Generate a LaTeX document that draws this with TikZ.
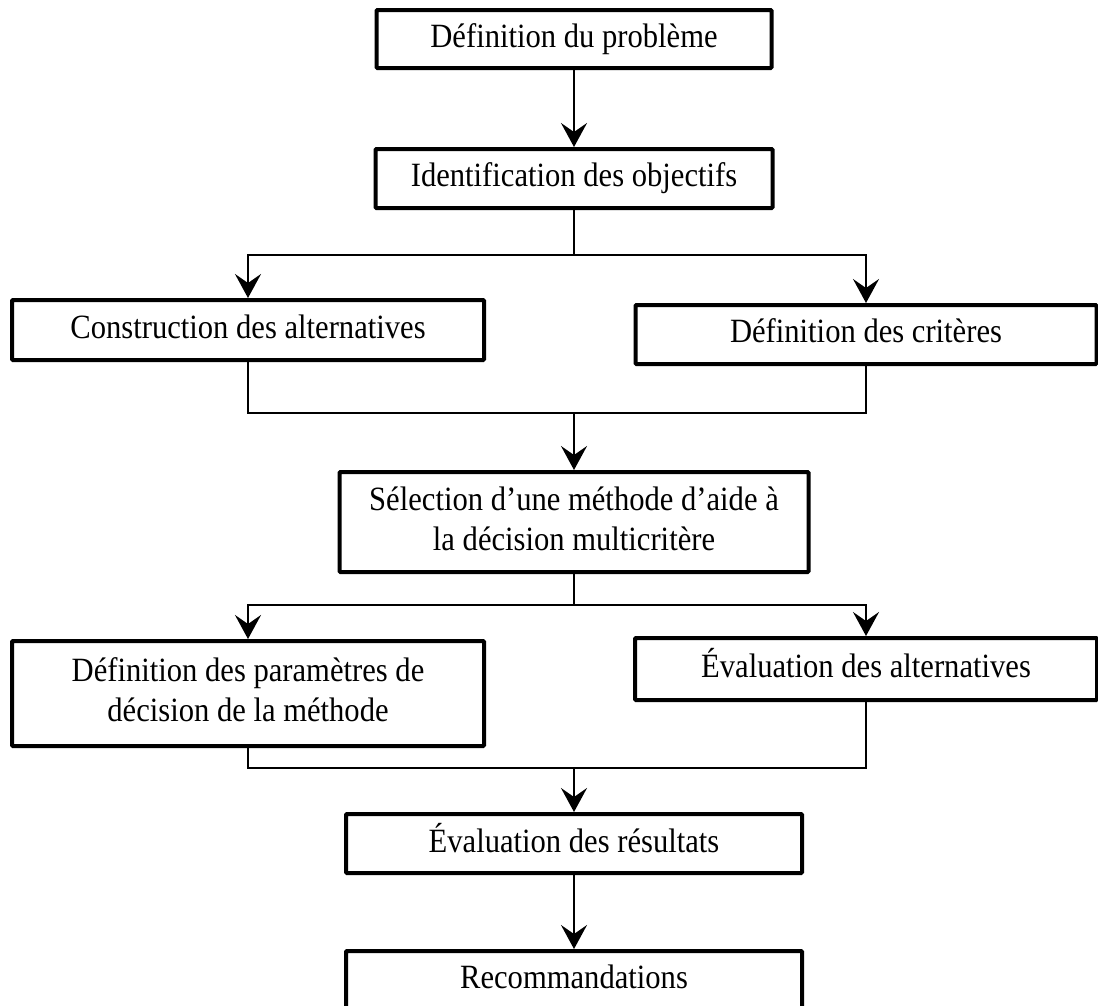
\documentclass[tikz,border=0pt]{standalone}
\usepackage{fontspec}
\usepackage{graphicx}
\setmainfont{Liberation Serif}
\usetikzlibrary{arrows.meta}
\newcommand\boxtxt[1]{\scalebox{0.9}[1]{\begin{tabular}{@{}c@{}}#1\end{tabular}}}
\begin{document}
\begin{tikzpicture}[x=1pt,y=-1pt,
  box/.style={draw, line width=4pt, rectangle, rounded corners=1pt, align=center,
    font=\fontsize{34}{40}\selectfont, inner sep=0pt},
  conn/.style={line width=2pt},
  arr/.style={conn, -{Stealth[length=24pt,width=26pt,inset=9pt]}}]
\clip (0,0) rectangle (1098,1005);
\fill[white] (0,0) rectangle (1098,1005);

\node[box, minimum width=395pt, minimum height=58pt] (b1) at (574,39) {\boxtxt{Définition du problème}};
\node[box, minimum width=397pt, minimum height=59pt] (b2) at (574,178.5) {\boxtxt{Identification des objectifs}};
\node[box, minimum width=472pt, minimum height=60pt] (b3) at (248,330) {\boxtxt{Construction des alternatives}};
\node[box, minimum width=461pt, minimum height=59pt] (b4) at (866,334.5) {\boxtxt{Définition des critères}};
\node[box, minimum width=469pt, minimum height=100pt] (b5) at (574,522) {\boxtxt{Sélection d’une méthode d’aide à\\la décision multicritère}};
\node[box, minimum width=472pt, minimum height=105pt] (b6) at (248,693.5) {\boxtxt{Définition des paramètres de\\décision de la méthode}};
\node[box, minimum width=462pt, minimum height=62pt] (b7) at (866,669) {\boxtxt{Évaluation des alternatives}};
\node[box, minimum width=456pt, minimum height=59pt] (b8) at (574,843.5) {\boxtxt{Évaluation des résultats}};
\node[box, minimum width=456pt, minimum height=59pt] (b9) at (574,980.5) {\boxtxt{Recommandations}};

\coordinate (j1) at (574,255);
\coordinate (j2) at (574,413);
\coordinate (j3) at (574,605);
\coordinate (j4) at (574,768);

\draw[arr] (b1.south) -- (b2.north);
\draw[conn] (b2.south) -- (j1);
\draw[arr] (j1) -| (b3.north);
\draw[arr] (j1) -| (b4.north);
\draw[conn] (b3.south) |- (j2);
\draw[conn] (b4.south) |- (j2);
\draw[arr] (j2) -- (b5.north);
\draw[conn] (b5.south) -- (j3);
\draw[arr] (j3) -| (b6.north);
\draw[arr] (j3) -| (b7.north);
\draw[conn] (b6.south) |- (j4);
\draw[conn] (b7.south) |- (j4);
\draw[arr] (j4) -- (b8.north);
\draw[arr] (b8.south) -- (b9.north);
\end{tikzpicture}
\end{document}
